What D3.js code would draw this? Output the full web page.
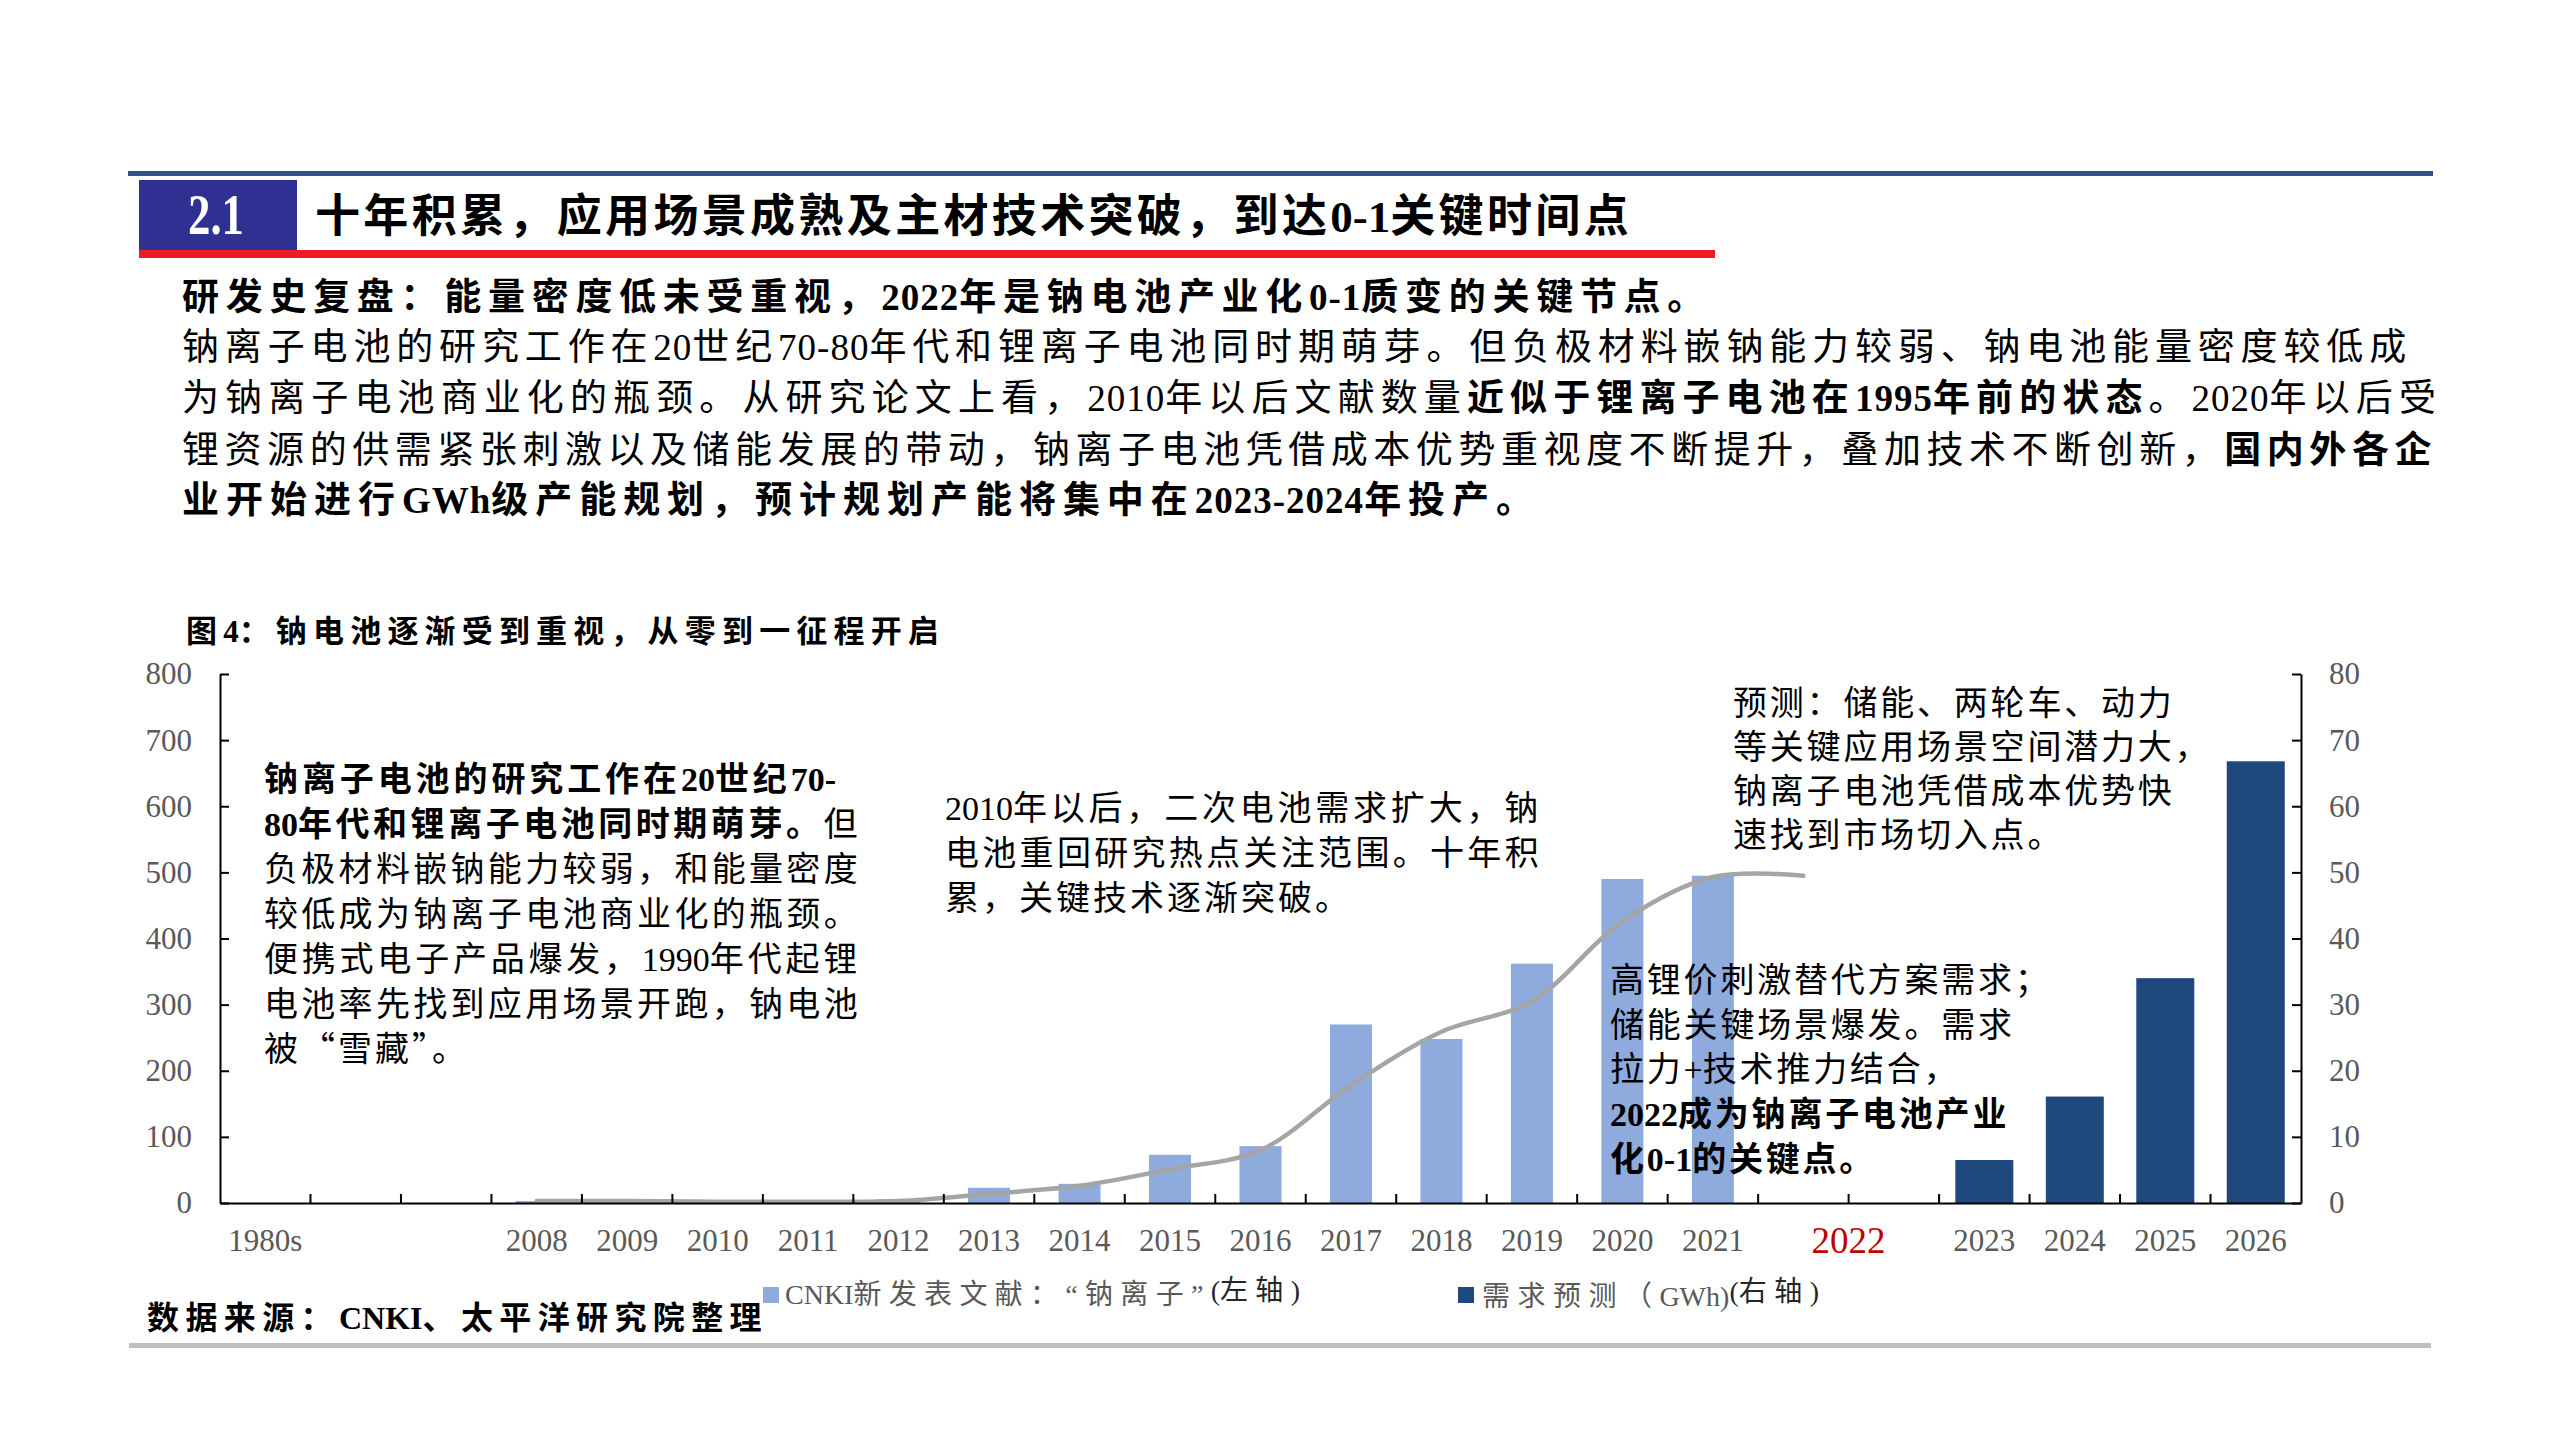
<!DOCTYPE html>
<html><head><meta charset="utf-8">
<script src="https://cdn.jsdelivr.net/npm/d3@7"></script>
<style>html,body{margin:0;padding:0;background:#fff;}svg{display:block;}</style>
</head><body>
<script>
// ---------------- data ----------------
const categories = ["1980s","gap1","gap2","2008","2009","2010","2011","2012","2013","2014","2015","2016","2017","2018","2019","2020","2021","gap2022a","gap2022b","2023","2024","2025","2026"];
const tickLabels = ["1980s","","","2008","2009","2010","2011","2012","2013","2014","2015","2016","2017","2018","2019","2020","2021","","","2023","2024","2025","2026"];
const highlightLabel = "2022";
const highlightAfter = "gap2022a";
const cnkiPapers = [0,0,0,3,4,2,3,6,23,29,73,86,270,248,362,490,495,null,null,null,null,null,null];
const cnkiTrend  = [null,null,null,3,3,2,2,3,14,26,51,80,178,259,305,426,493,495,null,null,null,null,null];
const demandGWh  = [null,null,null,null,null,null,null,null,null,null,null,null,null,null,null,null,null,null,null,6.5,16.1,34,66.8];
const leftTicks  = [0,100,200,300,400,500,600,700,800];
const rightTicks = [0,10,20,30,40,50,60,70,80];
const legendLabels = ["CNKI新发表文献：“钠离子”", "(左轴)", "需求预测（GWh)", "(右轴)"];

// ---------------- setup ----------------
const W = 2559, H = 1439;
const FONT = "'Liberation Serif','Noto Sans CJK SC',serif";
const CJK = "'Noto Sans CJK SC','Liberation Serif',sans-serif";
const svg = d3.select("body").append("svg").attr("width", W).attr("height", H);
svg.append("rect").attr("width", W).attr("height", H).attr("fill", "#fff");

// text helper: ASCII runs keep natural spacing, CJK runs receive the letter spacing
function T(o){
  const t = svg.append("text").attr("x", o.x).attr("y", o.cy + (o.bo ?? 0.38) * o.s)
    .attr("font-size", o.s).attr("font-family", o.f || FONT).attr("fill", o.c || "#000");
  if (o.a) t.attr("text-anchor", o.a);
  const parts = typeof o.t === "string" ? [{t: o.t}] : o.t;
  const cjkRuns = [];
  let nCJK = 0;
  parts.forEach(p => {
    const runs = p.t.match(/[\x00-\x7F]+|[^\x00-\x7F]+/g) || [];
    runs.forEach((r, k) => {
      const s = t.append("tspan").text(r).attr("font-weight", (p.b ?? o.b) ? 700 : 400);
      if (p.c) s.attr("fill", p.c);
      if (p.f) s.attr("font-family", p.f);
      if (p.dy && k === 0) s.attr("dy", p.dy);
      if (/[^\x00-\x7F]/.test(r)) { cjkRuns.push(s); nCJK += r.length; }
      else if (o.als) s.attr("letter-spacing", o.als);
    });
  });
  let ls = o.ls;
  if (o.w) {
    const natural = t.node().getComputedTextLength();
    ls = nCJK ? (o.w - natural) / nCJK : 0;
  }
  if (ls != null) cjkRuns.forEach(s => s.attr("letter-spacing", ls));
  return t;
}

// ---------------- header ----------------
svg.append("rect").attr("x", 128).attr("y", 171).attr("width", 2305).attr("height", 5).attr("fill", "#2E5289");
svg.append("rect").attr("x", 139).attr("y", 180).attr("width", 158).attr("height", 70).attr("fill", "#2E3192");
svg.append("text").attr("x", 188).attr("y", 234).attr("font-size", 56).attr("font-weight", 700)
  .attr("font-family", "'Liberation Serif',serif").attr("fill", "#fff")
  .attr("textLength", 56).attr("lengthAdjust", "spacingAndGlyphs").text("2.1");
svg.append("rect").attr("x", 139).attr("y", 250).attr("width", 1576).attr("height", 8).attr("fill", "#ED1C24");
T({x: 315, cy: 215, s: 45, b: true, t: "十年积累，应用场景成熟及主材技术突破，到达0-1关键时间点", w: 1317});

// ---------------- body text ----------------
const BS = 37;
T({x: 182, cy: 296, s: BS, b: true, als: 1, t: "研发史复盘：能量密度低未受重视，2022年是钠电池产业化0-1质变的关键节点。", w: 1529});
T({x: 182, cy: 346, s: BS, als: 1, t: "钠离子电池的研究工作在20世纪70-80年代和锂离子电池同时期萌芽。但负极材料嵌钠能力较弱、钠电池能量密度较低成", w: 2230});
T({x: 182, cy: 397, s: BS, als: 1, t: [{t: "为钠离子电池商业化的瓶颈。从研究论文上看，2010年以后文献数量"}, {t: "近似于锂离子电池在1995年前的状态", b: true}, {t: "。2020年以后受"}], w: 2260});
T({x: 182, cy: 449, s: BS, als: 1, t: [{t: "锂资源的供需紧张刺激以及储能发展的带动，钠离子电池凭借成本优势重视度不断提升，叠加技术不断创新，"}, {t: "国内外各企", b: true}], w: 2255});
T({x: 182, cy: 499, s: BS, b: true, als: 1, t: "业开始进行GWh级产能规划，预计规划产能将集中在2023-2024年投产。", w: 1358});

// chart title
T({x: 186, cy: 630, s: 31, b: true, t: "图4：钠电池逐渐受到重视，从零到一征程开启", w: 759});

// ---------------- chart ----------------
const x = d3.scaleBand().domain(categories).range([220, 2301]).padding(0);
const yL = d3.scaleLinear().domain([0, 800]).range([1203, 674]);
const yR = d3.scaleLinear().domain([0, 80]).range([1203, 674]);
const bw = x.bandwidth();
const labelOf = new Map(categories.map((c, i) => [c, tickLabels[i]]));

const LIGHT = "#8FAADC", DARK = "#1F497D";
const lightW = 42, darkW = 58;

svg.append("g").selectAll("rect")
  .data(categories.map((c, i) => ({c, v: cnkiPapers[i]})).filter(d => d.v != null && d.v > 0))
  .join("rect")
  .attr("x", d => x(d.c) + (bw - lightW) / 2).attr("width", lightW)
  .attr("y", d => yL(d.v)).attr("height", d => yL(0) - yL(d.v))
  .attr("fill", LIGHT);

svg.append("g").selectAll("rect")
  .data(categories.map((c, i) => ({c, v: demandGWh[i]})).filter(d => d.v != null))
  .join("rect")
  .attr("x", d => x(d.c) + (bw - darkW) / 2).attr("width", darkW)
  .attr("y", d => yR(d.v)).attr("height", d => yR(0) - yR(d.v))
  .attr("fill", DARK);

const lineGen = d3.line()
  .defined(d => d.v != null)
  .x(d => x(d.c) + bw / 2).y(d => yL(d.v))
  .curve(d3.curveCatmullRom.alpha(0.5));
svg.append("path")
  .datum(categories.map((c, i) => ({c, v: cnkiTrend[i]})))
  .attr("d", lineGen).attr("fill", "none").attr("stroke", "#A5A5A5")
  .attr("stroke-width", 4.5).attr("stroke-linejoin", "round").attr("stroke-linecap", "round");

function styleAxis(g){
  g.select(".domain").attr("stroke", "#000").attr("stroke-width", 2);
  g.selectAll(".tick line").attr("stroke", "#000").attr("stroke-width", 2);
  g.selectAll("text").attr("fill", "#595959").attr("font-size", 31).attr("font-family", FONT);
}
const gL = svg.append("g").attr("transform", "translate(220,0)")
  .call(d3.axisLeft(yL).tickValues(leftTicks).tickSize(-9).tickSizeOuter(0).tickPadding(28));
styleAxis(gL);
const gR = svg.append("g").attr("transform", "translate(2301,0)")
  .call(d3.axisRight(yR).tickValues(rightTicks).tickSize(-9).tickSizeOuter(0).tickPadding(28));
styleAxis(gR);
const gB = svg.append("g").attr("transform", "translate(0,1203)")
  .call(d3.axisBottom(x).tickFormat(d => labelOf.get(d)).tickSize(0).tickSizeOuter(0).tickPadding(26));
styleAxis(gB);
gB.selectAll(".tick text").attr("dy", "0.71em");

// boundary tick marks
svg.append("g").selectAll("line")
  .data(categories.slice(1))
  .join("line")
  .attr("x1", d => x(d)).attr("x2", d => x(d))
  .attr("y1", yL(0)).attr("y2", yL(0) - 9)
  .attr("stroke", "#000").attr("stroke-width", 2);

// highlighted 2022 label
svg.append("text")
  .attr("x", x(highlightAfter) + bw).attr("y", yL(0) + 37 + 0.34 * 37)
  .attr("text-anchor", "middle").attr("font-size", 37).attr("font-family", FONT)
  .attr("fill", "#C00000").text(highlightLabel);

// ---------------- annotations ----------------
const AS = 34;
const leftNote = [
  {t: [{t: "钠离子电池的研究工作在20世纪70-", b: true}], w: 572},
  {t: [{t: "80年代和锂离子电池同时期萌芽。", b: true}, {t: "但"}], w: 597},
  {t: "负极材料嵌钠能力较弱，和能量密度", w: 597},
  {t: "较低成为钠离子电池商业化的瓶颈。", w: 597},
  {t: "便携式电子产品爆发，1990年代起锂", w: 597},
  {t: "电池率先找到应用场景开跑，钠电池", w: 597},
  {t: "被“雪藏”。", f: CJK, ls: 3}
];
leftNote.forEach((l, i) => T(Object.assign({x: 264, cy: 778 + 45 * i, s: AS}, l)));

const midNote = [
  {t: "2010年以后，二次电池需求扩大，钠", w: 597},
  {t: "电池重回研究热点关注范围。十年积", w: 597},
  {t: "累，关键技术逐渐突破。", ls: 3}
];
midNote.forEach((l, i) => T(Object.assign({x: 945, cy: 807 + 45 * i, s: AS}, l)));

const topRightNote = ["预测：储能、两轮车、动力", "等关键应用场景空间潜力大，", "钠离子电池凭借成本优势快", "速找到市场切入点。"];
topRightNote.forEach((l, i) => T({x: 1733, cy: 702 + 44 * i, s: AS, ls: 2.8, t: l}));

const midRightNote = [
  {t: "高锂价刺激替代方案需求；"},
  {t: "储能关键场景爆发。需求"},
  {t: "拉力+技术推力结合，"},
  {t: "2022成为钠离子电池产业", b: true},
  {t: "化0-1的关键点。", b: true}
];
midRightNote.forEach((l, i) => T(Object.assign({x: 1610, cy: 979 + 44.7 * i, s: AS, ls: 2.8}, l)));

// ---------------- legend & source ----------------
svg.append("rect").attr("x", 763).attr("y", 1287).attr("width", 16).attr("height", 16).attr("fill", LIGHT);
T({x: 785, cy: 1294, s: 28, bo: 0.36, c: "#595959", t: [{t: legendLabels[0]}, {t: legendLabels[1], c: "#262626", dy: -4}], w: 515});
svg.append("rect").attr("x", 1458).attr("y", 1287).attr("width", 16).attr("height", 16).attr("fill", DARK);
T({x: 1482, cy: 1296, s: 28, bo: 0.36, c: "#595959", t: [{t: legendLabels[2]}, {t: legendLabels[3], c: "#262626", dy: -5}], w: 337});

T({x: 147, cy: 1317, s: 32, b: true, t: "数据来源：CNKI、太平洋研究院整理", w: 621});
svg.append("rect").attr("x", 129).attr("y", 1343).attr("width", 2302).attr("height", 5).attr("fill", "#BFBFBF");
</script>
</body></html>
